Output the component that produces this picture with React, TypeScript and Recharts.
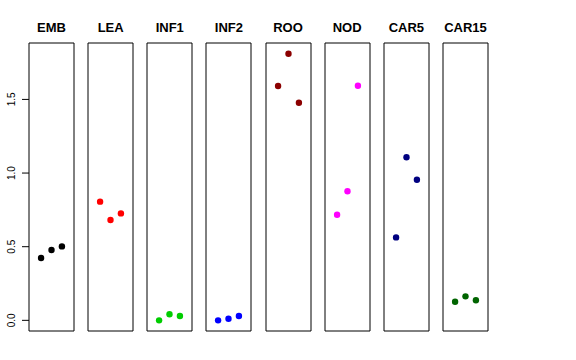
import { ScatterChart, Scatter, XAxis, YAxis, ReferenceArea } from "recharts";

const categories = ["EMB", "LEA", "INF1", "INF2", "ROO", "NOD", "CAR5", "CAR15"];
const colors = ["#000000", "#FF0000", "#00CD00", "#0000FF", "#8B0000", "#FF00FF", "#000080", "#006400"];
const replicates = [1, 2, 3];

const embValues = [0.423, 0.478, 0.502];
const leaValues = [0.806, 0.681, 0.726];
const inf1Values = [0.0, 0.041, 0.029];
const inf2Values = [0.0, 0.011, 0.029];
const rooValues = [1.591, 1.81, 1.477];
const nodValues = [0.717, 0.876, 1.593];
const car5Values = [0.563, 1.107, 0.955];
const car15Values = [0.126, 0.163, 0.136];

const yTicks = [0, 0.5, 1, 1.5];
const yTickLabels = ["0.0", "0.5", "1.0", "1.5"];

const allValues = [embValues, leaValues, inf1Values, inf2Values, rooValues, nodValues, car5Values, car15Values];

const Y_DOMAIN: [number, number] = [-0.0724, 1.883];
const X_DOMAIN: [number, number] = [-0.16, 4.16];

const PLOT_LEFT = 29;
const PLOT_TOP = 43;
const PANEL_W = 45;
const PANEL_H = 288;
const STEP = 59.14;
const AXIS_W = 29;

const YTick = (props: any) => {
  const { y, payload } = props;
  const idx = yTicks.indexOf(payload.value);
  const lx = 15.5;
  return (
    <text x={lx} y={y} transform={`rotate(-90, ${lx}, ${y})`} textAnchor="middle" fontSize={10} fill="#000" fontFamily="Liberation Sans, Arial, sans-serif">
      {idx >= 0 ? yTickLabels[idx] : payload.value}
    </text>
  );
};

const Panel = ({ index }: { index: number }) => {
  const first = index === 0;
  const color = colors[index];
  const data = replicates.map((r, i) => ({ x: r, y: allValues[index][i] }));
  const chartLeft = first ? 0 : PLOT_LEFT + index * STEP - 1;
  const width = first ? AXIS_W + PANEL_W + 1 : PANEL_W + 2;
  return (
    <>
      <div
        style={{
          position: "absolute",
          left: PLOT_LEFT + index * STEP - 20,
          width: PANEL_W + 40,
          top: 20,
          textAlign: "center",
          fontFamily: "Liberation Sans, Arial, sans-serif",
          fontWeight: "bold",
          fontSize: 13,
          lineHeight: "16px",
          color: "#000",
        }}
      >
        {categories[index]}
      </div>
      <div style={{ position: "absolute", left: chartLeft, top: PLOT_TOP - 1 }}>
        <ScatterChart width={width} height={PANEL_H + 2} margin={{ top: 1, right: 1, bottom: 1, left: first ? 0 : 1 }}>
          <XAxis type="number" dataKey="x" domain={X_DOMAIN} hide allowDataOverflow />
          <YAxis
            type="number"
            dataKey="y"
            domain={Y_DOMAIN}
            hide={!first}
            width={AXIS_W}
            ticks={yTicks}
            tick={<YTick />}
            tickSize={7}
            tickLine={{ stroke: "#000" }}
            axisLine={false}
            allowDataOverflow
          />
          <ReferenceArea
            x1={X_DOMAIN[0]}
            x2={X_DOMAIN[1]}
            y1={Y_DOMAIN[0]}
            y2={Y_DOMAIN[1]}
            fill="none"
            fillOpacity={0}
            stroke="#000"
            strokeWidth={1}
            ifOverflow="visible"
          />
          <Scatter
            data={data}
            isAnimationActive={false}
            fill={color}
            shape={(p: any) => <circle cx={p.cx} cy={p.cy} r={3.2} fill={color} />}
          />
        </ScatterChart>
      </div>
    </>
  );
};

export default function App() {
  return (
    <div style={{ position: "absolute", left: 0, top: 0, width: 576, height: 360, background: "#fff" }}>
      {categories.map((c, i) => (
        <Panel key={c} index={i} />
      ))}
    </div>
  );
}
